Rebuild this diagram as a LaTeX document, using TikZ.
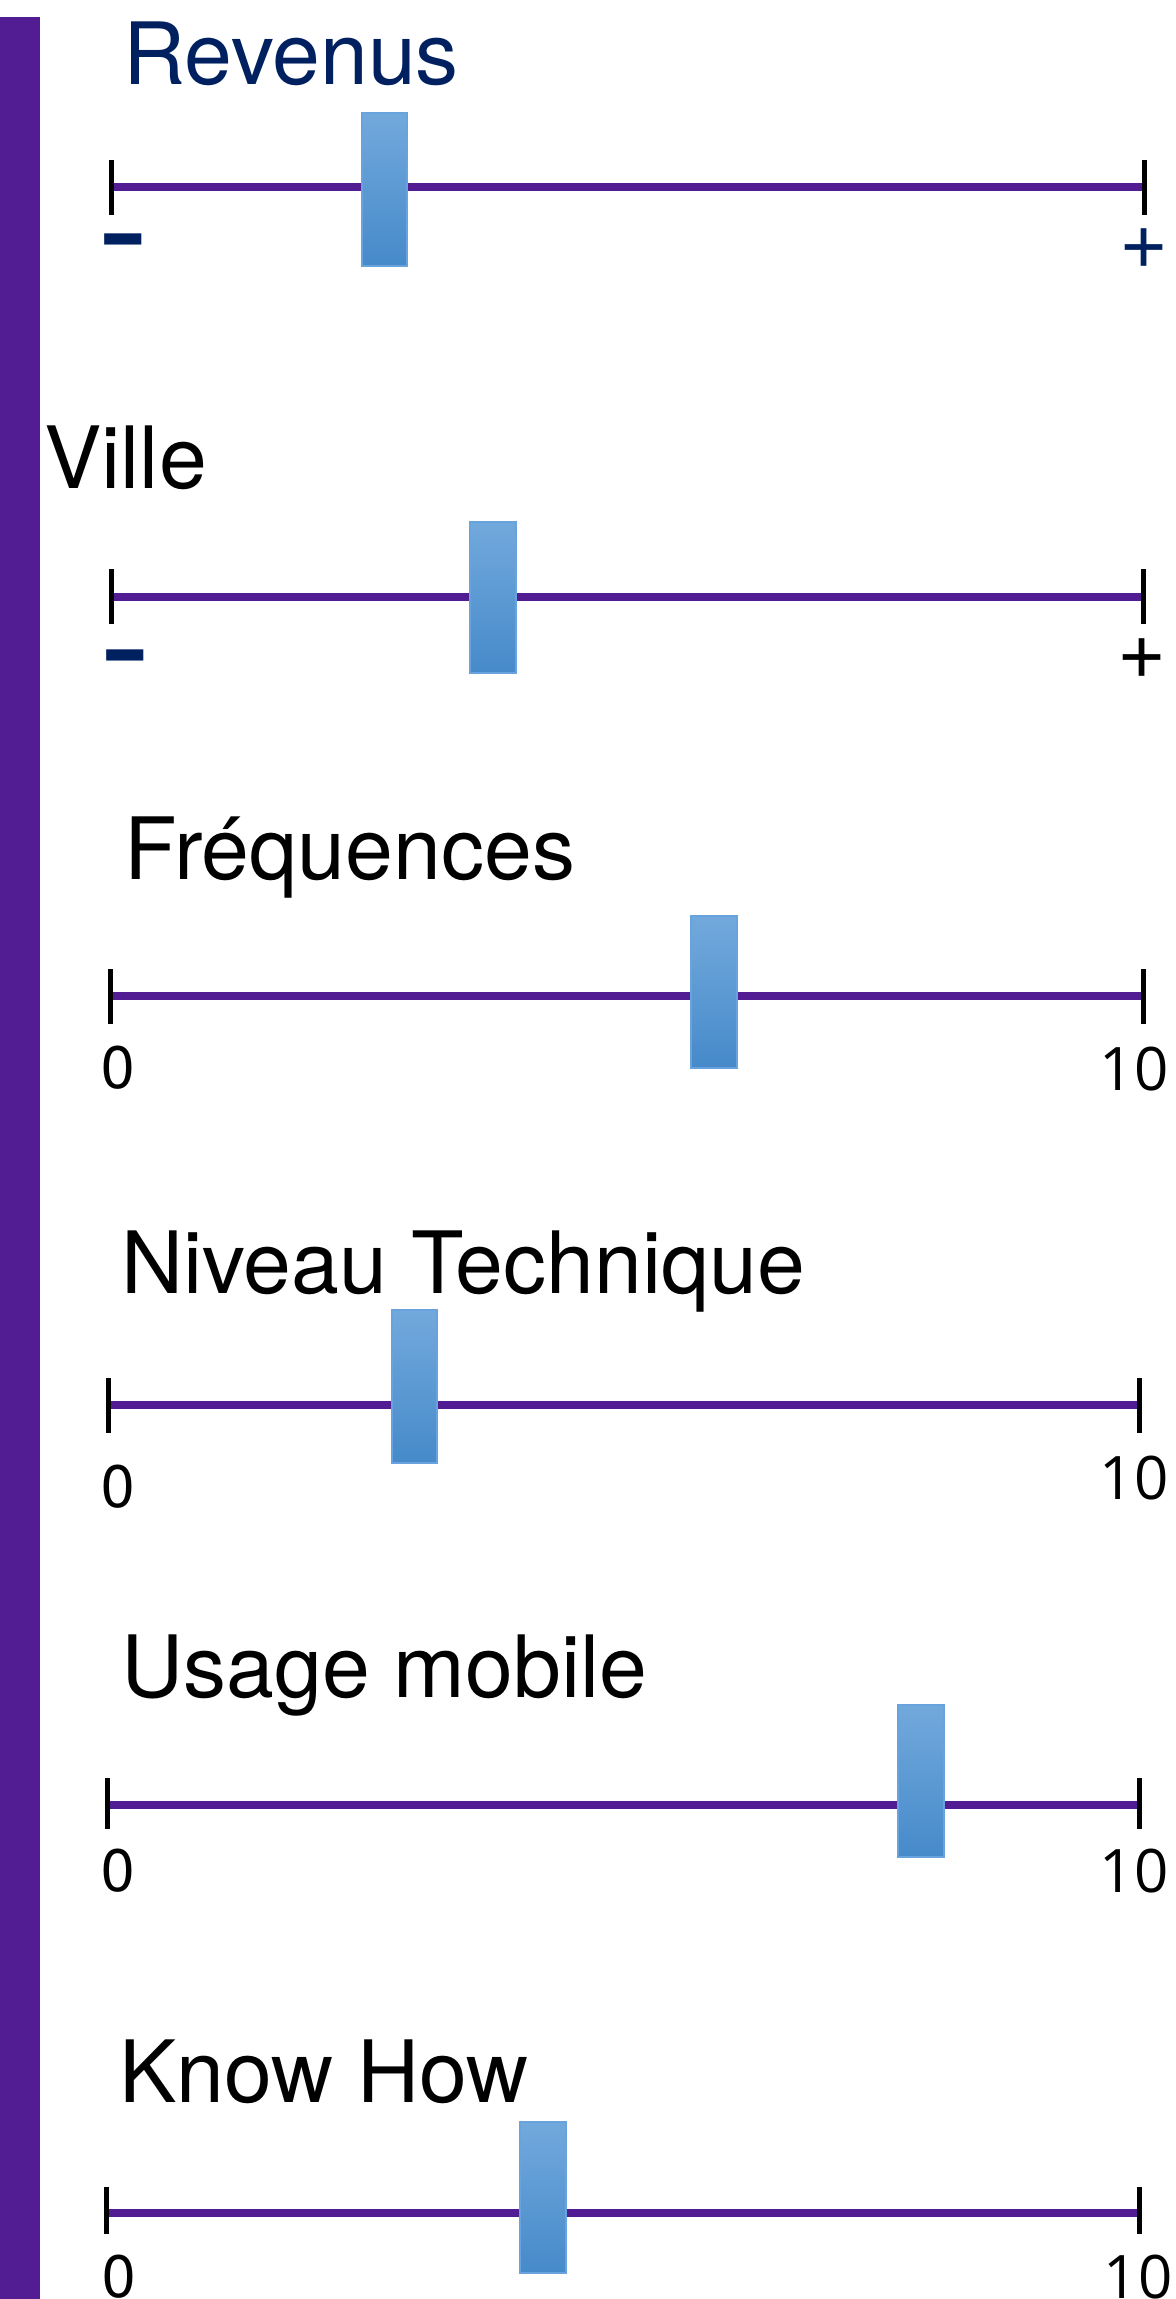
\documentclass[tikz,border=0pt]{standalone}
\usepackage{fontspec}
\setmainfont{TeX Gyre Heros}
\newfontfamily\digitfont{Open Sans}

\definecolor{barpurple}{RGB}{82,28,146}
\definecolor{navy}{RGB}{0,32,96}
\definecolor{knobtop}{RGB}{114,169,220}
\definecolor{knobbot}{RGB}{70,138,202}
\definecolor{knobedge}{RGB}{104,163,222}

\tikzset{
  scaleline/.style={draw=barpurple, line width=3.8pt},
  endtick/.style={draw=black, line width=2.5pt},
  knob/.style={draw=knobedge, line width=1pt, top color=knobtop, bottom color=knobbot},
  axistitle/.style={anchor=base west, inner sep=0pt, font=\fontsize{43}{50}\selectfont},
  lowlabel/.style={anchor=base, inner sep=0pt, font=\fontsize{30}{36}\selectfont},
  highlabel/.style={anchor=base, inner sep=0pt, font=\digitfont\fontsize{30}{36}\selectfont},
  minuslabel/.style={anchor=base, inner sep=0pt, text=navy, font=\fontsize{78}{80}\selectfont},
  pluslabel/.style={anchor=center, inner sep=0pt, font=\fontsize{42}{48}\selectfont},
}

\begin{document}
\begin{tikzpicture}[x=0.5pt, y=-0.5pt]
  \useasboundingbox (0,0) rectangle (1175,2299);
  \clip (0,0) rectangle (1175,2299);

  % vertical purple band on the left
  \fill[barpurple] (0,17) rectangle (40,2299);

  % sliders: row / line y / left x / right x / tick top / tick bottom / knob l,r,t,b
  \foreach \i/\y/\xl/\xr/\tt/\tb/\bl/\br/\bt/\bb in {
      1/187/111/1144/160/215/362/407/113/266,
      2/597/111/1143/569/624/470/516/522/673,
      3/996/110/1143/969/1024/691/737/916/1068,
      4/1405/108/1139/1378/1433/392/437/1310/1463,
      5/1805/107/1139/1778/1829/898/944/1705/1857,
      6/2213/106/1139/2187/2234/520/566/2122/2273} {
    \coordinate (start\i) at (\xl,\y);
    \coordinate (end\i) at (\xr,\y);
    \draw[scaleline] (start\i) -- (end\i);
    \draw[endtick] (\xl,\tt) -- (\xl,\tb);
    \draw[endtick] (\xr,\tt) -- (\xr,\tb);
    \path[knob] (\bl,\bt) rectangle (\br,\bb);
  }

  % titles
  \node[axistitle, text=navy] (t1) at (123,84) {Revenus};
  \node[axistitle] (t2) at (44,488) {Ville};
  \node[axistitle] (t3) at (124,879) {Fréquences};
  \node[axistitle] (t4) at (121,1293) {Niveau Technique};
  \node[axistitle] (t5) at (121,1697) {Usage mobile};
  \node[axistitle] (t6) at (119,2102) {Know How};

  % end labels
  \node[minuslabel] (lo1) at (123,282) {-};
  \node[pluslabel, text=navy] (hi1) at (1144,249) {+};
  \node[minuslabel] (lo2) at (125,698) {-};
  \node[pluslabel] (hi2) at (1142,659) {+};

  \node[lowlabel] (lo3) at (118.5,1088) {0};
  \node[highlabel] (hi3) at (1134,1090) {10};
  \node[lowlabel] (lo4) at (118,1507) {0};
  \node[highlabel] (hi4) at (1134,1499) {10};
  \node[lowlabel] (lo5) at (118,1891) {0};
  \node[highlabel] (hi5) at (1134,1892) {10};
  \node[lowlabel] (lo6) at (119.5,2297) {0};
  \node[highlabel] (hi6) at (1138,2298) {10};
\end{tikzpicture}
\end{document}
